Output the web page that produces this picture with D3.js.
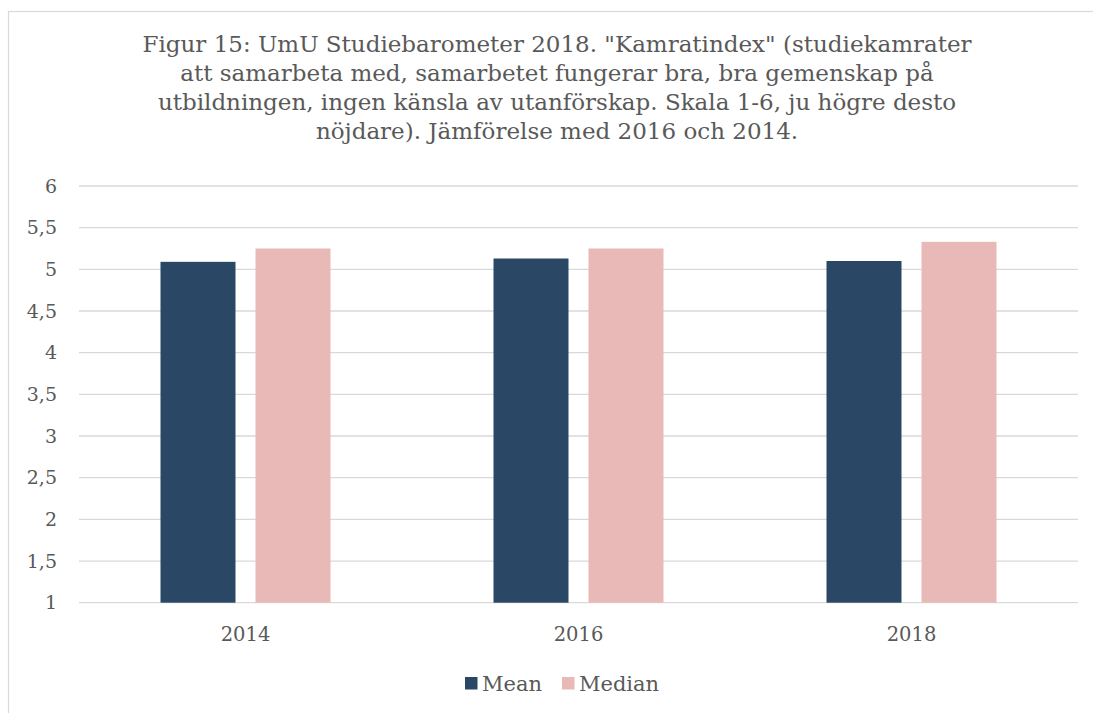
<!DOCTYPE html>
<html>
<head>
  <meta charset="utf-8">
  <title>Kamratindex</title>
  <script src="https://cdnjs.cloudflare.com/ajax/libs/d3/7.8.5/d3.min.js"></script>
</head>
<style>
  body { margin: 0; background: #fff; }
  svg { display: block; }
  text { font-family: Georgia, "DejaVu Serif", serif; fill: #595959; }
</style>
<body>
<svg id="chart" width="1093" height="713"></svg>
<script type="text/javascript">

const years = ['2014', '2016', '2018'];
const seriesNames = ['Mean', 'Median'];
const meanValues = [5.09, 5.13, 5.10];
const medianValues = [5.25, 5.25, 5.33];
const yTicks = [1, 1.5, 2, 2.5, 3, 3.5, 4, 4.5, 5, 5.5, 6];
const titleLines = [
  'Figur 15: UmU Studiebarometer 2018. "Kamratindex" (studiekamrater',
  'att samarbeta med, samarbetet fungerar bra, bra gemenskap på',
  'utbildningen, ingen känsla av utanförskap. Skala 1-6, ju högre desto',
  'nöjdare). Jämförelse med 2016 och 2014.'
];

const colors = { Mean: '#2a4866', Median: '#e8b9b7' };

const rows = years.map((y, i) => ({ year: y, Mean: meanValues[i], Median: medianValues[i] }));

const svg = d3.select('#chart');

// chart frame (only top and left edge visible in the picture)
svg.append('rect')
  .attr('x', 8.5).attr('y', 11.5)
  .attr('width', 1200).attr('height', 800)
  .attr('fill', 'none').attr('stroke', '#d9d9d9').attr('stroke-width', 1.2);

const left = 79, right = 1078;
const x0 = d3.scaleBand().domain(years).range([left, right]).paddingInner(0.4895).paddingOuter(0.4895 / 2);
const x1 = d3.scaleBand().domain(seriesNames).range([0, x0.bandwidth()]).paddingInner(0.2105);
const y = d3.scaleLinear().domain([1, 6]).range([602.7, 186]);

// title
svg.append('g').selectAll('text')
  .data(titleLines)
  .join('text')
  .attr('x', 557)
  .attr('y', (d, i) => 52 + i * 29)
  .attr('text-anchor', 'middle')
  .style('font-size', '23px')
  .text(d => d);

// grid
svg.append('g').selectAll('line')
  .data(yTicks)
  .join('line')
  .attr('x1', left).attr('x2', right)
  .attr('y1', d => y(d)).attr('y2', d => y(d))
  .attr('stroke', '#d9d9d9').attr('stroke-width', 1.3);

// y labels
const fmt = d => String(d).replace('.', ',');
svg.append('g').selectAll('text')
  .data(yTicks)
  .join('text')
  .attr('x', 57)
  .attr('y', d => y(d))
  .attr('dy', '0.35em')
  .attr('text-anchor', 'end')
  .style('font-size', '19px')
  .text(fmt);

// bars
svg.append('g').selectAll('g')
  .data(rows)
  .join('g')
  .attr('transform', d => `translate(${x0(d.year)},0)`)
  .selectAll('rect')
  .data(d => seriesNames.map(s => ({ key: s, value: d[s] })))
  .join('rect')
  .attr('x', d => x1(d.key))
  .attr('width', x1.bandwidth())
  .attr('y', d => y(d.value))
  .attr('height', d => y(1) - y(d.value))
  .attr('fill', d => colors[d.key]);

// category labels
svg.append('g').selectAll('text')
  .data(years)
  .join('text')
  .attr('x', d => x0(d) + x0.bandwidth() / 2)
  .attr('y', 641)
  .attr('text-anchor', 'middle')
  .style('font-size', '19.5px')
  .text(d => d);

// legend
const legendX = [465, 562];
const legend = svg.append('g').selectAll('g')
  .data(seriesNames)
  .join('g')
  .attr('transform', (d, i) => `translate(${legendX[i]},677)`);
legend.append('rect')
  .attr('width', 12.5).attr('height', 12.5)
  .attr('fill', d => colors[d]);
legend.append('text')
  .attr('x', 17).attr('y', 14)
  .style('font-size', '21px')
  .text(d => d);

</script>
</body>
</html>
